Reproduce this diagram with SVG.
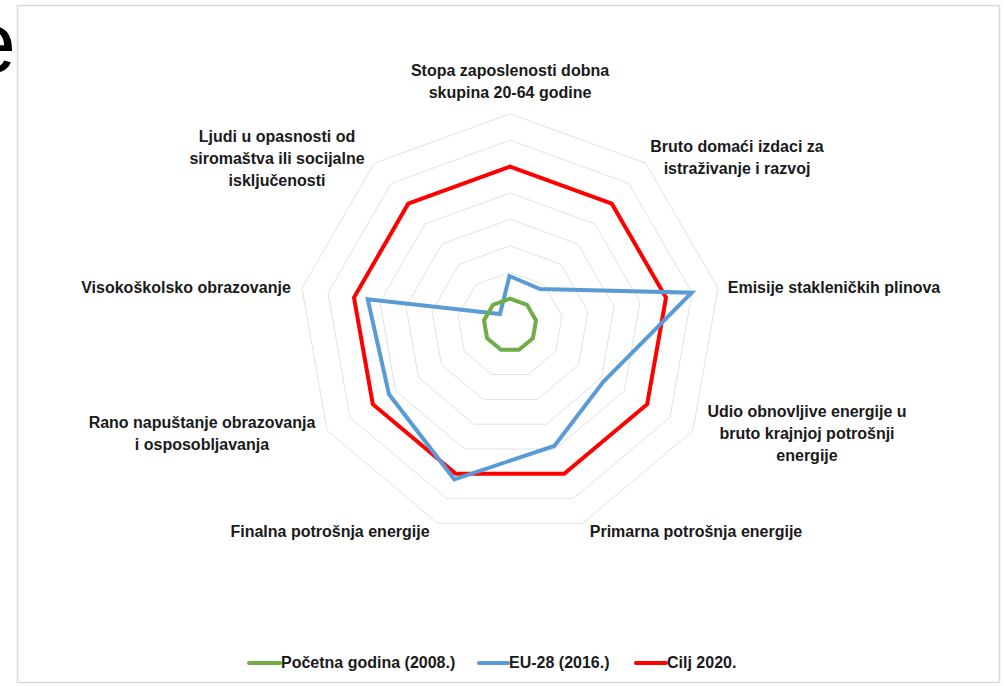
<svg xmlns="http://www.w3.org/2000/svg" xmlns:xlink="http://www.w3.org/1999/xlink" width="1004" height="686" viewBox="0 0 1004 686">
  <style>
    .lbl { font-family: "Liberation Sans", Arial, sans-serif; font-weight: bold; font-size: 16px; fill: #1a1a1a; text-anchor: middle; }
    .leg { font-family: "Liberation Sans", Arial, sans-serif; font-weight: bold; font-size: 16px; fill: #1a1a1a; }
    .grid { fill: none; stroke: #e2e2e2; stroke-width: 1; vector-effect: non-scaling-stroke; }
    .series { fill: none; stroke-width: 4; stroke-linejoin: miter; }
    .green { stroke: #70ad47; }
    .blue { stroke: #5b9bd5; }
    .red { stroke: #ff0000; }
  </style>
  <defs>
    <polygon id="ring" class="grid" points="0,-26.4 16.970,-20.224 25.999,-4.584 22.863,13.2 9.029,24.808 -9.029,24.808 -22.863,13.2 -25.999,-4.584 -16.970,-20.224"/>
  </defs>
  <rect x="0" y="0" width="1004" height="686" fill="#ffffff"/>
  <text x="-32" y="72" font-family="Liberation Sans, Arial, sans-serif" font-size="86" fill="#000000">e</text>
  <rect x="17.5" y="5.5" width="982" height="677" fill="#ffffff" stroke="#d9d9d9" stroke-width="1.5"/>

  <g id="grid">
    <use xlink:href="#ring" transform="translate(510 325) scale(1)"/>
    <use xlink:href="#ring" transform="translate(510 325) scale(2)"/>
    <use xlink:href="#ring" transform="translate(510 325) scale(3)"/>
    <use xlink:href="#ring" transform="translate(510 325) scale(4)"/>
    <use xlink:href="#ring" transform="translate(510 325) scale(5)"/>
    <use xlink:href="#ring" transform="translate(510 325) scale(6)"/>
    <use xlink:href="#ring" transform="translate(510 325) scale(7)"/>
    <use xlink:href="#ring" transform="translate(510 325) scale(8)"/>
  </g>

  <g id="series">
    <polygon id="series-red" class="series red" points="510,166.6 611.8,203.7 666.0,297.5 647.2,404.2 564.2,473.8 455.8,473.8 372.8,404.2 354.0,297.5 408.2,203.7"/>
    <polygon id="series-blue" class="series blue" points="509.5,276 540,289 691.7,292.7 603.5,381.5 554.3,446 454.3,479.3 389,394.3 367.7,299.3 500,314"/>
    <polygon id="series-green" class="series green" points="510,298.6 527.0,304.8 536.0,320.4 532.9,338.2 519.0,349.8 501.0,349.8 487.1,338.2 484.0,320.4 493.0,304.8"/>
  </g>

  <g id="label-stopa">
    <text class="lbl" x="510" y="76">Stopa zaposlenosti dobna</text>
    <text class="lbl" x="510" y="98">skupina 20-64 godine</text>
  </g>
  <g id="label-bruto">
    <text class="lbl" x="737" y="152">Bruto domaći izdaci za</text>
    <text class="lbl" x="737" y="174">istraživanje i razvoj</text>
  </g>
  <g id="label-emisije">
    <text class="lbl" x="834" y="293">Emisije stakleničkih plinova</text>
  </g>
  <g id="label-udio">
    <text class="lbl" x="807" y="417">Udio obnovljive energije u</text>
    <text class="lbl" x="807" y="439">bruto krajnjoj potrošnji</text>
    <text class="lbl" x="807" y="461">energije</text>
  </g>
  <g id="label-primarna">
    <text class="lbl" x="696" y="537">Primarna potrošnja energije</text>
  </g>
  <g id="label-finalna">
    <text class="lbl" x="330" y="537">Finalna potrošnja energije</text>
  </g>
  <g id="label-rano">
    <text class="lbl" x="202" y="428">Rano napuštanje obrazovanja</text>
    <text class="lbl" x="202" y="450">i osposobljavanja</text>
  </g>
  <g id="label-visoko">
    <text class="lbl" x="186" y="293">Visokoškolsko obrazovanje</text>
  </g>
  <g id="label-ljudi">
    <text class="lbl" x="277" y="142">Ljudi u opasnosti od</text>
    <text class="lbl" x="277" y="164">siromaštva ili socijalne</text>
    <text class="lbl" x="277" y="186">isključenosti</text>
  </g>

  <g id="legend">
    <line x1="249" y1="663" x2="280" y2="663" stroke="#70ad47" stroke-width="4" stroke-linecap="round"/>
    <text class="leg" x="281" y="668">Početna godina (2008.)</text>
    <line x1="479" y1="663" x2="508" y2="663" stroke="#5b9bd5" stroke-width="4" stroke-linecap="round"/>
    <text class="leg" x="509" y="668">EU-28 (2016.)</text>
    <line x1="636" y1="663" x2="666" y2="663" stroke="#ff0000" stroke-width="4" stroke-linecap="round"/>
    <text class="leg" x="667" y="668">Cilj 2020.</text>
  </g>
</svg>
